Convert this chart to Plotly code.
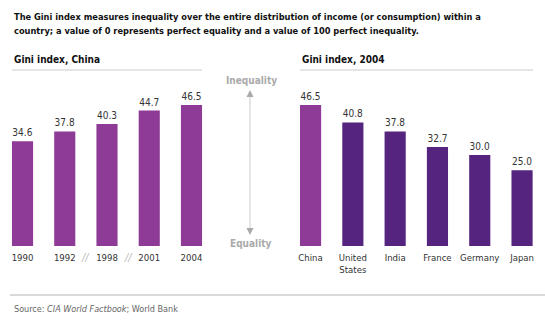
import plotly.graph_objects as go

years = ["1990", "1992", "1998", "2001", "2004"]
china_gini = [34.6, 37.8, 40.3, 44.7, 46.5]
countries = ["China", "United<br>States", "India", "France", "Germany", "Japan"]
gini_2004 = [46.5, 40.8, 37.8, 32.7, 30.0, 25.0]

MAG = "#8E3A97"
DARK = "#55247F"
FONT = "DejaVu Sans Condensed, Liberation Sans Narrow, sans-serif"
W, H = 545, 335

def px_x(p):
    return p / W

def px_y(p):
    return 1 - p / H

fig = go.Figure()
fig.add_trace(go.Bar(
    x=years, y=china_gini, marker_color=MAG, marker_line_width=0,
    text=[f"{v:.1f}" for v in china_gini], textposition="outside",
    textfont=dict(size=10, color="#333", family=FONT), cliponaxis=False,
    xaxis="x", yaxis="y", width=0.5,
))
fig.add_trace(go.Bar(
    x=countries, y=gini_2004,
    marker_color=[MAG] + [DARK] * (len(countries) - 1), marker_line_width=0,
    text=[f"{v:.1f}" for v in gini_2004], textposition="outside",
    textfont=dict(size=10, color="#333", family=FONT), cliponaxis=False,
    xaxis="x2", yaxis="y2", width=0.5,
))

ydom = [px_y(246), px_y(94.5)]
tickfont = dict(size=9.5, color="#333", family=FONT)
fig.update_layout(
    width=W, height=H, margin=dict(l=0, r=0, t=0, b=0),
    paper_bgcolor="white", plot_bgcolor="white", showlegend=False,
    font=dict(family=FONT, color="#333"),
    xaxis=dict(domain=[px_x(1.4), px_x(212.6)], range=[-0.5, 4.5], type="category",
               showgrid=False, zeroline=False, showline=False, ticks="",
               tickfont=tickfont, ticklabelstandoff=4),
    yaxis=dict(domain=ydom, range=[0, 50], visible=False),
    xaxis2=dict(domain=[px_x(289.4), px_x(543.2)], range=[-0.5, 5.5], type="category",
                showgrid=False, zeroline=False, showline=False, ticks="",
                tickfont=tickfont, ticklabelstandoff=4),
    yaxis2=dict(domain=ydom, range=[0, 50], visible=False, anchor="x2"),
)

ann = []
header = [
    "The Gini index measures inequality over the entire distribution of income (or consumption) within a",
    "country; a value of 0 represents perfect equality and a value of 100 perfect inequality.",
]
for i, line in enumerate(header):
    ann.append(dict(x=px_x(12), y=px_y(16 + 15 * i), xref="paper", yref="paper",
                    xanchor="left", yanchor="middle", align="left", showarrow=False,
                    text=f"<b>{line}</b>", font=dict(size=9.2, color="#111", family=FONT)))
ann.append(dict(x=px_x(12), y=px_y(60), xref="paper", yref="paper", xanchor="left", yanchor="middle",
                showarrow=False, text="<b>Gini index, China</b>",
                font=dict(size=10, color="#111", family=FONT)))
ann.append(dict(x=px_x(300), y=px_y(60), xref="paper", yref="paper", xanchor="left", yanchor="middle",
                showarrow=False, text="<b>Gini index, 2004</b>",
                font=dict(size=10, color="#111", family=FONT)))
ann.append(dict(x=px_x(251), y=px_y(80), xref="paper", yref="paper", xanchor="center", yanchor="middle",
                showarrow=False, text="<b>Inequality</b>",
                font=dict(size=10, color="#AAAAAA", family=FONT)))
ann.append(dict(x=px_x(251), y=px_y(243), xref="paper", yref="paper", xanchor="center", yanchor="middle",
                showarrow=False, text="<b>Equality</b>",
                font=dict(size=10, color="#AAAAAA", family=FONT)))
ann.append(dict(x=px_x(12), y=px_y(309), xref="paper", yref="paper", xanchor="left", yanchor="middle",
                showarrow=False, text="Source: <i>CIA World Factbook</i>; World Bank",
                font=dict(size=9, color="#666", family=FONT)))
for xv in (1.5, 2.5):
    ann.append(dict(x=xv, y=px_y(257), xref="x", yref="paper", xanchor="center", yanchor="middle",
                    showarrow=False, text="<i>//</i>",
                    font=dict(size=11, color="#BBBBBB", family=FONT)))
fig.update_layout(annotations=ann)

shapes = []
shapes.append(dict(type="line", xref="paper", yref="paper", x0=px_x(12), x1=px_x(202),
                   y0=px_y(70), y1=px_y(70), line=dict(color="#CCCCCC", width=1)))
shapes.append(dict(type="line", xref="paper", yref="paper", x0=px_x(300), x1=px_x(533),
                   y0=px_y(70), y1=px_y(70), line=dict(color="#CCCCCC", width=1)))
shapes.append(dict(type="line", xref="paper", yref="paper", x0=px_x(10), x1=1,
                   y0=px_y(295), y1=px_y(295), line=dict(color="#CCCCCC", width=1.5)))
shapes.append(dict(type="line", xref="paper", yref="paper", x0=px_x(250), x1=px_x(250),
                   y0=px_y(96), y1=px_y(229), line=dict(color="#DDDDDD", width=1.5)))
shapes.append(dict(type="path", xref="paper", yref="paper",
                   path=f"M {px_x(246.5)},{px_y(97)} L {px_x(253.5)},{px_y(97)} L {px_x(250)},{px_y(90)} Z",
                   fillcolor="#AAAAAA", line=dict(width=0)))
shapes.append(dict(type="path", xref="paper", yref="paper",
                   path=f"M {px_x(246.5)},{px_y(228)} L {px_x(253.5)},{px_y(228)} L {px_x(250)},{px_y(235)} Z",
                   fillcolor="#AAAAAA", line=dict(width=0)))
fig.update_layout(shapes=shapes)

fig.write_html("out.html")
